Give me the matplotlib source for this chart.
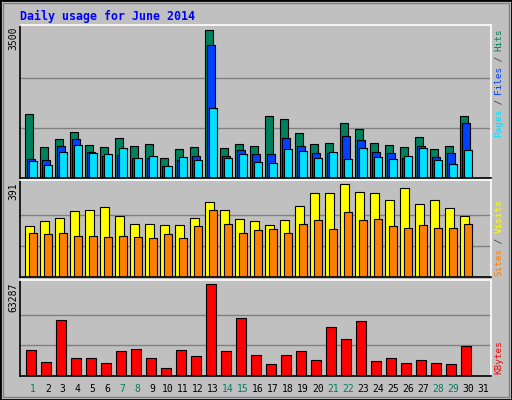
import numpy as np
import matplotlib
matplotlib.use("Agg")
import matplotlib.pyplot as plt
from matplotlib.patches import Rectangle

days = np.arange(1, 32)
hits = [1478, 731, 918, 1081, 778, 731, 941, 754, 801, 474, 684, 731, 3438, 708, 801,
        754, 1431, 1384, 1058, 801, 824, 1291, 1151, 824, 778, 731, 964, 684, 754, 1431, 0]
files = [451, 428, 754, 918, 614, 521, 544, 474, 474, 288, 428, 521, 3088, 521, 661,
         568, 568, 941, 754, 591, 591, 988, 894, 614, 591, 474, 754, 498, 591, 1291, 0]
pages = [404, 311, 614, 778, 591, 568, 708, 474, 521, 288, 498, 428, 1618, 474, 568,
         381, 358, 684, 638, 474, 614, 451, 708, 498, 451, 521, 708, 428, 334, 661, 0]
visits = [213, 234, 247, 276, 281, 293, 255, 225, 225, 217, 217, 247, 315, 281, 242,
          234, 217, 238, 298, 353, 353, 391, 357, 353, 323, 374, 306, 323, 289, 255, 0]
sites = [183, 179, 183, 174, 174, 170, 174, 170, 162, 179, 166, 213, 281, 221, 183,
         196, 200, 183, 225, 238, 204, 272, 238, 242, 213, 208, 217, 208, 208, 221, 0]
kbytes = [18249, 9933, 38346, 12705, 12705, 9240, 17556, 18942, 12705, 5775, 18249, 14091,
          63287, 17556, 39732, 14784, 8547, 14784, 17556, 11319, 33495, 25179, 37653,
          10626, 12705, 9240, 11319, 9240, 8547, 20328, 0]
weekend = [1, 7, 8, 14, 15, 21, 22, 28, 29]

W, H = 512, 400
BG = "#C0C0C0"
mono = "DejaVu Sans Mono"

fig = plt.figure(figsize=(W / 100, H / 100), dpi=100, facecolor=BG)
fig.patches.append(Rectangle((0, 0), 1, 1, transform=fig.transFigure, fill=False,
                             ec="black", lw=2))
fig.patches.append(Rectangle((3 / W, 3 / H), 1 - 6 / W, 1 - 6 / H, transform=fig.transFigure,
                             fill=False, ec="#808080", lw=1))


def panel(top, bottom):
    ax = fig.add_axes([20 / W, 1 - bottom / H, 471 / W, (bottom - top) / H], facecolor=BG)
    ax.set_xlim(0.5, 31.9)
    ax.set_xticks([])
    ax.set_yticks([])
    ax.spines["left"].set_color("black")
    ax.spines["bottom"].set_color("black")
    ax.spines["top"].set_color("white")
    ax.spines["right"].set_color("white")
    for s in ax.spines.values():
        s.set_linewidth(1.2)
    return ax


def grid(ax, vmax):
    for f in (1 / 3, 2 / 3):
        ax.axhline(vmax * f, color="#808080", lw=1, zorder=0)


kw = dict(align="edge", edgecolor="black", linewidth=0.8)

ax1 = panel(25, 178)
ax1.set_ylim(0, 3560)
grid(ax1, 3500)
ax1.bar(days - 0.15, hits, 0.49, color="#00805C", **kw)
ax1.bar(days - 0.01, files, 0.49, color="#0040FF", **kw)
ax1.bar(days + 0.12, pages, 0.49, color="#00E0FF", **kw)

ax2 = panel(180, 277)
ax2.set_ylim(0, 408)
grid(ax2, 391)
ax2.bar(days - 0.15, visits, 0.55, color="#FFFF00", **kw)
ax2.bar(days + 0.12, sites, 0.5, color="#FF8000", **kw)

ax3 = panel(280, 376)
ax3.set_ylim(0, 66127)
grid(ax3, 63287)
ax3.bar(days - 0.13, kbytes, 0.69, color="#FF0000", **kw)

fig.text(20 / W, 1 - 16 / H, "Daily usage for June 2014", color="#0000FF", family=mono,
         weight="bold", fontsize=8.4, va="center")

for label, y in (("3500", 27), ("391", 182), ("63287", 283)):
    fig.text(13 / W, 1 - y / H, label, rotation=90, ha="center", va="top",
             family=mono, fontsize=7)

for d in days:
    x = 20 + (d + 0.35 - 0.5) * 15
    fig.text(x / W, 1 - 389 / H, str(d), ha="center", va="center", family=mono, fontsize=7,
             color="#00805C" if d in weekend else "black")

CH = 5.35


def side(parts, base):
    off = 0
    for txt, col in parts:
        fig.text(499 / W, 1 - (base - off * CH) / H, txt, rotation=90, ha="center",
                 va="bottom", family=mono, fontsize=6.7, color=col)
        off += len(txt)


side([("Pages", "#00E0FF"), (" / ", "#404040"), ("Files", "#0040FF"), (" / ", "#404040"),
      ("Hits", "#00805C")], 137)
side([("Sites", "#FF8000"), (" / ", "#404040"), ("Visits", "#FFFF00")], 276)
side([("KBytes", "#FF0000")], 374)

fig.savefig("out.png", dpi=100, facecolor=BG)
